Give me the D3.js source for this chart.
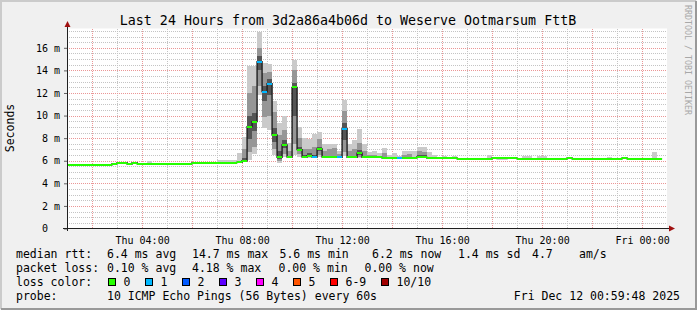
<!DOCTYPE html>
<html>
<head>
<meta charset="utf-8">
<script src="https://cdn.jsdelivr.net/npm/d3@7"></script>
<style>
  html, body { margin: 0; padding: 0; background: #f0f0f0; }
  svg text { font-family: "DejaVu Sans Mono", monospace; }
</style>
</head>
<body>
<div id="chart"></div>
<script>
// bins of 12 minutes starting Thu 01:00 (UTC used as wall clock)
var firstBin = Date.UTC(2025, 11, 11, 1, 0, 0),
    stepMinutes = 12;

// median rtt per bin, ms
var medianMs = [
    5.64, 5.64, 5.64, 5.64, 5.64, 5.64, 5.64, 5.64, 5.64,
    5.73, 5.82, 5.82, 5.71, 5.82,
    5.73, 5.73, 5.73, 5.73, 5.73, 5.73, 5.73, 5.73, 5.73, 5.73, 5.73,
    5.83, 5.83, 5.83, 5.83, 5.83, 5.83, 5.83, 5.83, 5.83, 5.86,
    6.0, 9.02, 9.46, 14.77, 12.12, 12.83, 8.28, 6.31, 7.4, 6.33,
    12.5, 6.98, 6.33, 6.44, 6.33, 7.04, 6.33, 6.3, 6.3, 6.3,
    8.84, 6.3, 6.3, 6.66, 6.3,
    6.3, 6.3, 6.3, 6.24, 6.24, 6.24, 6.24, 6.25, 6.25, 6.25,
    6.35, 6.3, 6.22, 6.22, 6.22, 6.25, 6.22, 6.25,
    6.18, 6.18, 6.18, 6.18, 6.18, 6.18, 6.18,
    6.25, 6.2, 6.2, 6.23, 6.23,
    6.18, 6.18, 6.18, 6.18, 6.18, 6.18, 6.18, 6.18, 6.18, 6.18,
    6.25,
    6.18, 6.18, 6.18, 6.18, 6.18, 6.18, 6.18, 6.18, 6.18, 6.18,
    6.25,
    6.18, 6.18, 6.18, 6.18, 6.18, 6.18, 6.18,
    null
];

// bins with lost pings
var lossBins = [38, 39, 40, 49, 54, 55, 66],
    lossCount = [1, 1, 1, 1, 1, 1, 1];

// smoke: bins with visible spread, outer / middle / core bands (ms)
var smokeBins = [16, 30, 31, 32, 33, 34, 35, 36, 37, 38, 39, 40, 41, 42, 43, 44, 45, 46, 47, 48, 49,
    50, 51, 52, 53, 54, 55, 56, 57, 58, 59, 60, 61, 62, 63, 64, 65, 66, 67, 68, 69, 70, 71,
    72, 73, 75, 77, 84, 91, 92, 94, 95, 108, 117];
var smokeLo = [5.73, 5.83, 5.83, 5.83, 5.83, 5.83, 5.9, 6.05, 6.6, 11.8, 8.9, 8.7, 6.5, 5.77, 6.3, 6.2, 6.5, 6.3, 6.2, 6.2, 6.2,
    6.3, 6.2, 6.2, 6.2, 6.2, 6.4, 6.2, 6.2, 6.2, 6.2, 6.2, 6.2, 6.2, 6.15, 6.15, 6.15, 6.15, 6.15, 6.15, 6.15, 6.2, 6.2,
    6.15, 6.15, 6.15, 6.15, 6.1, 6.1, 6.1, 6.1, 6.1, 6.1, 6.1];
var smokeHi = [5.97, 6.1, 6.1, 6.05, 6.1, 6.65, 8.1, 14.4, 14.4, 17.4, 14.65, 14.6, 11.3, 9.3, 10.0, 7.6, 14.95, 9.0, 8.0, 7.9, 8.4,
    8.56, 7.5, 7.5, 7.5, 6.9, 11.36, 7.5, 7.8, 8.77, 7.5, 6.8, 6.9, 6.65, 7.1, 6.5, 6.7, 6.45, 6.85, 6.85, 6.85, 7.2, 7.2,
    6.74, 6.5, 6.45, 6.45, 6.5, 6.45, 6.45, 6.45, 6.45, 6.35, 6.77];
var midLo = [null, null, null, null, null, 5.85, 5.95, 6.8, 7.2, 12.6, 9.9, 10.0, 7.0, 6.0, 6.6, 6.25, 7.5, 6.6, 6.25, 6.3, 6.25,
    6.5, 6.25, 6.25, 6.25, 6.25, 6.8, 6.25, 6.25, 6.3, 6.25, 6.25, 6.25, null, 6.2, null, null, null, 6.2, 6.2, null, 6.25, 6.25,
    null, null, null, null, null, null, null, null, null, null, null];
var midHi = [null, null, null, null, null, 5.95, 7.0, 12.0, 12.6, 16.0, 13.8, 13.9, 10.3, 8.3, 8.7, 6.9, 14.0, 8.0, 7.0, 7.0, 7.2,
    7.9, 6.9, 7.0, 7.1, 6.6, 10.4, 6.9, 7.0, 7.6, 6.9, 6.5, 6.55, null, 6.7, null, null, null, 6.5, 6.6, null, 6.85, 6.8,
    null, null, null, null, null, null, null, null, null, null, null];
var coreLo = [null, null, null, null, null, null, 5.98, 7.9, 8.6, 14.0, 11.3, 11.8, 7.7, 6.15, 7.1, 6.28, 10.0, 6.85, 6.3, 6.35, 6.3,
    6.85, 6.3, 6.3, 6.3, 6.28, 7.8, 6.28, 6.28, 6.5, 6.28, null, null, null, null, null, null, null, null, null, null, 6.3, 6.28,
    null, null, null, null, null, null, null, null, null, null, null];
var coreHi = [null, null, null, null, null, null, 6.25, 10.0, 10.2, 15.3, 12.6, 13.2, 8.9, 6.9, 7.8, 6.45, 12.9, 7.2, 6.55, 6.65, 6.55,
    7.25, 6.45, 6.45, 6.45, 6.4, 9.3, 6.45, 6.45, 6.95, 6.45, null, null, null, null, null, null, null, null, null, null, 6.55, 6.5,
    null, null, null, null, null, null, null, null, null, null, null];

var yTicks = [0, 2, 4, 6, 8, 10, 12, 14, 16];
var xTickTimes = ["2025-12-11T04:00:00Z", "2025-12-11T08:00:00Z", "2025-12-11T12:00:00Z",
    "2025-12-11T16:00:00Z", "2025-12-11T20:00:00Z", "2025-12-12T00:00:00Z"];

var lossLabels = ["0", "1", "2", "3", "4", "5", "6-9", "10/10"],
    lossColors = ["#26ff00", "#00b8ff", "#0059ff", "#5e00ff", "#ff00fe", "#ff5500", "#ff0000", "#a10000"];

var titleText = "Last 24 Hours from 3d2a86a4b06d to Weserve Ootmarsum FttB";

(function () {
    var width = 697,
        height = 310,
        plotL = 67,
        plotR = 667,
        plotT = 28.5,
        plotB = 228.5;

    var svg = d3.select('#chart')
        .append('svg')
        .attr('width', width)
        .attr('height', height);

    // frame
    svg.append('rect').attr('width', width).attr('height', height).attr('fill', '#f0f0f0');
    svg.append('path').attr('d', 'M1,309V1H696').attr('stroke', '#cbcbcb').attr('stroke-width', 2).attr('fill', 'none');
    svg.append('path').attr('d', 'M1,309H696V1').attr('stroke', '#999').attr('stroke-width', 2).attr('fill', 'none');
    svg.append('rect').attr('x', plotL).attr('y', plotT).attr('width', plotR - plotL).attr('height', plotB - plotT).attr('fill', '#fff');

    var x = d3.scaleUtc()
        .domain([Date.UTC(2025, 11, 11, 0, 59, 48), Date.UTC(2025, 11, 12, 0, 59, 48)])
        .range([plotL, plotR]);

    var y = d3.scaleLinear()
        .domain([0, 17.71])
        .range([plotB, plotT]);

    var binStart = function (k) { return new Date(firstBin + k * stepMinutes * 60000); };

    // grid
    var grid = svg.append('g').attr('shape-rendering', 'crispEdges');
    var minorY = d3.range(0.5, 17.6, 0.5).filter(function (v) { return v % 2 !== 0; });
    grid.selectAll('.hmin').data(minorY).enter().append('line')
        .attr('x1', plotL).attr('x2', plotR)
        .attr('y1', function (d) { return Math.round(y(d)) + 0.5; })
        .attr('y2', function (d) { return Math.round(y(d)) + 0.5; })
        .attr('stroke', '#c4c4c4').attr('stroke-dasharray', '1,1');
    grid.selectAll('.vmin').data(d3.utcHour.every(1).range(x.domain()[0], x.domain()[1])).enter().append('line')
        .attr('y1', plotT).attr('y2', plotB)
        .attr('x1', function (d) { return Math.round(x(d)) + 0.5; })
        .attr('x2', function (d) { return Math.round(x(d)) + 0.5; })
        .attr('stroke', function (d) { return d.getUTCHours() % 2 ? '#c4c4c4' : '#eb9696'; })
        .attr('stroke-dasharray', '1,1');
    grid.selectAll('.hmaj').data(yTicks.slice(1)).enter().append('line')
        .attr('x1', plotL).attr('x2', plotR)
        .attr('y1', function (d) { return Math.round(y(d)) + 0.5; })
        .attr('y2', function (d) { return Math.round(y(d)) + 0.5; })
        .attr('stroke', '#eb9696').attr('stroke-dasharray', '1,1');

    // smoke
    var smoke = svg.append('g').attr('shape-rendering', 'crispEdges');
    var bands = [[smokeLo, smokeHi, '#cacaca'], [midLo, midHi, '#969696'], [coreLo, coreHi, '#555555']];
    bands.forEach(function (b) {
        var rows = smokeBins.map(function (k, i) { return { k: k, lo: b[0][i], hi: b[1][i] }; })
            .filter(function (r) { return r.lo != null; });
        smoke.selectAll(null).data(rows).enter().append('rect')
            .attr('x', function (r) { return x(binStart(r.k)); })
            .attr('width', function (r) { return x(binStart(r.k + 1)) - x(binStart(r.k)); })
            .attr('y', function (r) { return y(r.hi); })
            .attr('height', function (r) { return y(r.lo) - y(r.hi); })
            .attr('fill', b[2]);
    });

    // median line (step)
    var pts = [];
    medianMs.forEach(function (v, k) {
        if (v == null) return;
        pts.push([binStart(k), v], [binStart(k + 1), v]);
    });
    svg.append('path')
        .attr('d', d3.line().x(function (d) { return x(d[0]); }).y(function (d) { return y(d[1]); })(pts))
        .attr('fill', 'none').attr('stroke', '#202020').attr('stroke-width', 1.4);

    // loss-coloured median bars
    var medBins = d3.range(medianMs.length).filter(function (k) { return medianMs[k] != null; });
    svg.append('g').attr('shape-rendering', 'crispEdges')
        .selectAll('rect').data(medBins)
        .enter().append('rect')
        .attr('x', function (k) { return x(binStart(k)); })
        .attr('width', function (k) { return x(binStart(k + 1)) - x(binStart(k)); })
        .attr('y', function (k) { return y(medianMs[k]) - 1; })
        .attr('height', 2)
        .attr('fill', function (k) {
            var i = lossBins.indexOf(k);
            return lossColors[i < 0 ? 0 : lossCount[i]];
        });

    // axes
    var yAxis = svg.append('g')
        .attr('transform', 'translate(' + plotL + ',0)')
        .call(d3.axisLeft(y).tickValues(yTicks).tickSize(3).tickPadding(4)
            .tickFormat(function (d) { return d === 0 ? '0  ' : d + ' m'; }));
    yAxis.select('.domain').remove();
    yAxis.selectAll('line').attr('stroke', '#606060');
    yAxis.selectAll('text').style('white-space', 'pre').attr('font-size', '10px')
        .attr('font-family', 'DejaVu Sans Mono').attr('fill', '#000');

    var xAxis = svg.append('g')
        .attr('transform', 'translate(0,' + plotB + ')')
        .call(d3.axisBottom(x).tickValues(xTickTimes.map(function (s) { return new Date(s); }))
            .tickSize(0).tickPadding(8).tickFormat(d3.utcFormat('%a %H:%M')));
    xAxis.select('.domain').remove();
    xAxis.selectAll('text').attr('font-size', '10px').attr('font-family', 'DejaVu Sans Mono').attr('fill', '#000');

    svg.append('line').attr('x1', 63).attr('x2', 670).attr('y1', plotB).attr('y2', plotB)
        .attr('stroke', '#202020');
    svg.append('line').attr('x1', plotL + 0.5).attr('x2', plotL + 0.5).attr('y1', 231).attr('y2', 25)
        .attr('stroke', '#202020');
    svg.append('path').attr('d', 'M669,225.5L675,228.5L669,231.5Z').attr('fill', '#a01010');
    svg.append('path').attr('d', 'M64.5,27L67.5,21L70.5,27Z').attr('fill', '#a01010');

    // title and labels
    svg.append('text').attr('x', 348).attr('y', 24.5).attr('text-anchor', 'middle')
        .attr('font-size', '13.3px').text(titleText);
    svg.append('text').attr('transform', 'translate(14,128) rotate(-90)').attr('text-anchor', 'middle')
        .attr('font-size', '11.5px').text('Seconds');
    svg.append('text').attr('transform', 'translate(685,5) rotate(90)')
        .attr('font-size', '8.3px').attr('fill', '#a8a8a8').text('RRDTOOL / TOBI OETIKER');

    // legend
    var legend = svg.append('g').attr('font-size', '11.5px');
    var legendItems = [
        [16, 258, 'median rtt:'], [107, 258, '6.4 ms avg'], [192, 258, '14.7 ms max'], [279.5, 258, '5.6 ms min'],
        [372, 258, '6.2 ms now'], [458, 258, '1.4 ms sd'], [532, 258, '4.7'], [579, 258, 'am/s'],
        [16, 272, 'packet loss:'], [107, 272, '0.10 % avg'], [192, 272, '4.18 % max'], [278.5, 272, '0.00 % min'],
        [364.5, 272, '0.00 % now'],
        [16, 286, 'loss color:'],
        [16, 300, 'probe:'], [107, 300, '10 ICMP Echo Pings (56 Bytes) every 60s']
    ];
    legend.selectAll('.li').data(legendItems).enter().append('text')
        .attr('x', function (d) { return d[0]; }).attr('y', function (d) { return d[1]; })
        .text(function (d) { return d[2]; });
    legend.append('text').attr('x', 680).attr('y', 300).attr('text-anchor', 'end').text('Fri Dec 12 00:59:48 2025');

    var boxX = [108.5, 145.5, 182.5, 219.5, 256.5, 293.5, 330.5, 381.5];
    lossLabels.forEach(function (lab, i) {
        legend.append('rect').attr('x', boxX[i]).attr('y', 278.5).attr('width', 7).attr('height', 7)
            .attr('fill', lossColors[i]).attr('stroke', '#000');
        legend.append('text').attr('x', boxX[i] + 15).attr('y', 286).text(lab);
    });
}());
</script>
</body>
</html>
